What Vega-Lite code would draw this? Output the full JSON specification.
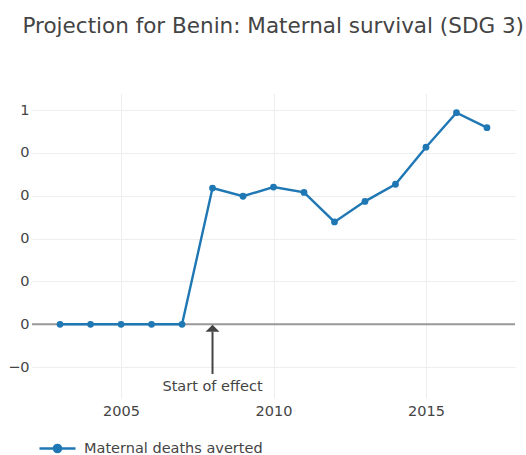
{
  "$schema": "https://vega.github.io/schema/vega-lite/v6.json",
  "width": 483,
  "height": 305,
  "autosize": {"type": "none"},
  "padding": {"left": 32, "top": 93, "right": 11, "bottom": 57},
  "background": "white",
  "title": {
    "text": "Projection for Benin: Maternal survival (SDG 3)",
    "anchor": "start",
    "frame": "group",
    "baseline": "alphabetic",
    "offset": 39,
    "dx": -9.5,
    "limit": 600,
    "font": "DejaVu Sans",
    "fontSize": 21.5,
    "fontWeight": "normal",
    "color": "#444444"
  },
  "config": {
    "view": {"stroke": null},
    "font": "DejaVu Sans",
    "axis": {
      "domain": false,
      "ticks": false,
      "gridColor": "#eeeeee",
      "gridWidth": 1,
      "labelFont": "DejaVu Sans",
      "labelFontSize": 14.5,
      "labelColor": "#444444",
      "title": null
    }
  },
  "layer": [
    {
      "data": {"values": [{"y": 0}]},
      "mark": {"type": "rule", "color": "#999999", "strokeWidth": 2},
      "encoding": {
        "y": {"field": "y", "type": "quantitative", "scale": {"domain": [-0.344, 1.08], "nice": false, "zero": false}}
      }
    },
    {
      "data": {
        "values": [
          {"year": 2003, "value": 0, "series": "Maternal deaths averted"},
          {"year": 2004, "value": 0, "series": "Maternal deaths averted"},
          {"year": 2005, "value": 0, "series": "Maternal deaths averted"},
          {"year": 2006, "value": 0, "series": "Maternal deaths averted"},
          {"year": 2007, "value": 0, "series": "Maternal deaths averted"},
          {"year": 2008, "value": 0.636, "series": "Maternal deaths averted"},
          {"year": 2009, "value": 0.598, "series": "Maternal deaths averted"},
          {"year": 2010, "value": 0.641, "series": "Maternal deaths averted"},
          {"year": 2011, "value": 0.616, "series": "Maternal deaths averted"},
          {"year": 2012, "value": 0.478, "series": "Maternal deaths averted"},
          {"year": 2013, "value": 0.574, "series": "Maternal deaths averted"},
          {"year": 2014, "value": 0.654, "series": "Maternal deaths averted"},
          {"year": 2015, "value": 0.827, "series": "Maternal deaths averted"},
          {"year": 2016, "value": 0.988, "series": "Maternal deaths averted"},
          {"year": 2017, "value": 0.918, "series": "Maternal deaths averted"}
        ]
      },
      "mark": {"type": "line", "strokeWidth": 2.4, "point": {"filled": true, "size": 46}},
      "encoding": {
        "x": {
          "field": "year", "type": "quantitative",
          "scale": {"domain": [2002.08, 2017.92], "nice": false, "zero": false},
          "axis": {"values": [2005, 2010, 2015], "format": "d", "labelPadding": 6.5, "grid": true}
        },
        "y": {
          "field": "value", "type": "quantitative",
          "scale": {"domain": [-0.344, 1.08], "nice": false, "zero": false},
          "axis": {
            "values": [-0.2, 0, 0.2, 0.4, 0.6, 0.8, 1],
            "labelExpr": "datum.value < -0.01 ? '\u22120' : (datum.value > 0.99 ? '1' : '0')",
            "labelPadding": 3,
            "grid": true
          }
        },
        "color": {
          "field": "series", "type": "nominal",
          "scale": {"domain": ["Maternal deaths averted"], "range": ["#1f77b4"]},
          "legend": {
            "orient": "none",
            "legendX": 6,
            "legendY": 336,
            "title": null,
            "padding": 0,
            "symbolType": "M-1,0H1M-0.2,0A0.2,0.2,0,1,1,0.2,0A0.2,0.2,0,1,1,-0.2,0Z",
            "symbolSize": 1296,
            "symbolStrokeWidth": 2.4,
            "symbolFillColor": "#1f77b4",
            "labelFont": "DejaVu Sans",
            "labelFontSize": 14.5,
            "labelColor": "#444444",
            "labelOffset": 7,
            "labelLimit": 0,
            "encode": {"symbols": {"update": {"fill": {"value": "#1f77b4"}, "stroke": {"value": "#1f77b4"}}}}
          }
        }
      }
    },
    {
      "data": {"values": [{"year": 2008, "y1": -0.232, "y2": -0.034}]},
      "mark": {"type": "rule", "color": "#444444", "strokeWidth": 2},
      "encoding": {
        "x": {"field": "year", "type": "quantitative"},
        "y": {"field": "y1", "type": "quantitative"},
        "y2": {"field": "y2"}
      }
    },
    {
      "data": {"values": [{"year": 2008, "y": -0.0187}]},
      "mark": {"type": "point", "shape": "M0,-0.5L-1,0.5L1,0.5Z", "size": 196, "filled": true, "color": "#444444", "opacity": 1},
      "encoding": {
        "x": {"field": "year", "type": "quantitative"},
        "y": {"field": "y", "type": "quantitative"}
      }
    },
    {
      "data": {"values": [{"year": 2008, "y": -0.293, "label": "Start of effect"}]},
      "mark": {"type": "text", "font": "DejaVu Sans", "fontSize": 14.5, "color": "#444444", "baseline": "middle", "align": "center"},
      "encoding": {
        "x": {"field": "year", "type": "quantitative"},
        "y": {"field": "y", "type": "quantitative"},
        "text": {"field": "label"}
      }
    }
  ]
}
